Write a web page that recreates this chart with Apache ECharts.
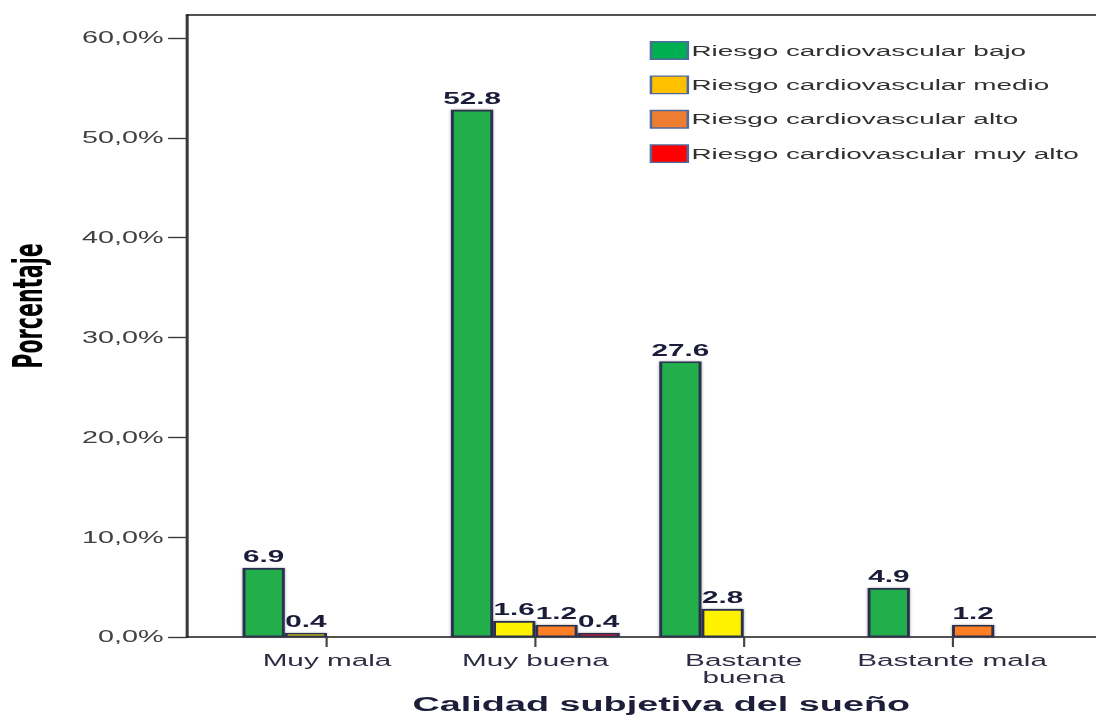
<!DOCTYPE html>
<html>
<head>
<meta charset="utf-8">
<title>Calidad subjetiva del sueño y riesgo cardiovascular</title>
<script src="https://cdn.jsdelivr.net/npm/echarts@6/dist/echarts.min.js"></script>
<style>
  html, body { margin: 0; padding: 0; background: #ffffff; overflow: hidden; }
  #chart { width: 609px; height: 719px; transform-origin: 0 0; }
</style>
</head>
<body>
<div id="chart"></div>
<script>
// Categories on the x axis
const categories = ['Muy mala', 'Muy buena', 'Bastante buena', 'Bastante mala'];

// Percentages per cardiovascular risk level (null = no bar)
const riesgoBajo    = [6.9, 52.8, 27.6, 4.9];
const riesgoMedio   = [0.4, 1.6, 2.8, null];
const riesgoAlto    = [null, 1.2, null, 1.2];
const riesgoMuyAlto = [null, 0.4, null, null];

// Series names
const seriesNames = [
  'Riesgo cardiovascular bajo',
  'Riesgo cardiovascular medio',
  'Riesgo cardiovascular alto',
  'Riesgo cardiovascular muy alto'
];

// Y axis ticks (percent)
const yTicks = [0, 10, 20, 30, 40, 50, 60];
const yMax = 62.3;

// The drawing is laid out narrow and stretched horizontally to full width
const STRETCH = 1096 / 609;
const dom = document.getElementById('chart');
dom.style.transform = 'scaleX(' + STRETCH + ')';

const barColors = ['#22ae4b', '#fff200', '#ff7f27', '#e8152b'];
const legendColors = ['#00b050', '#ffc000', '#ed7d31', '#ff0000'];
const seriesData = [riesgoBajo, riesgoMedio, riesgoAlto, riesgoMuyAlto];

const FONT = "'Liberation Sans', Arial, sans-serif";

const chart = echarts.init(dom, null, { renderer: 'svg', width: 609, height: 719 });

const frameAxis = {
  type: 'value', min: 0, max: 1, gridIndex: 0,
  axisLabel: { show: false }, axisTick: { show: false }, splitLine: { show: false },
  axisLine: { show: true, onZero: false, lineStyle: { color: '#1a1a1a', width: 1.5 } }
};

const option = {
  backgroundColor: '#ffffff',
  animation: false,
  textStyle: { fontFamily: FONT },
  legend: {
    orient: 'vertical',
    left: 361,
    top: 41,
    padding: 0,
    itemWidth: 20.5,
    itemHeight: 17.5,
    itemGap: 15.5,
    icon: 'rect',
    textStyle: { fontFamily: FONT, fontSize: 15.5, color: '#303030', padding: [0, 0, 0, -3] },
    data: seriesNames.map((n, i) => ({
      name: n,
      itemStyle: { color: legendColors[i], borderColor: '#4f6b9c', borderWidth: 1.4, shadowBlur: 0 }
    }))
  },
  grid: [
    { left: 103.9, right: 0, top: 15, bottom: 82, outerBoundsMode: 'none', containLabel: false },
    { left: 123.8, right: 22.1, top: 15, bottom: 82, outerBoundsMode: 'none', containLabel: false }
  ],
  xAxis: [
    Object.assign({}, frameAxis, {
      position: 'bottom',
      name: 'Calidad subjetiva del sueño',
      nameLocation: 'middle',
      nameGap: 56,
      nameTextStyle: { fontFamily: FONT, fontSize: 21, fontWeight: 'bold', color: '#1e1e3a', padding: [0, 0, 0, 22] }
    }),
    {
      type: 'category', gridIndex: 1, data: categories,
      axisLine: { show: false },
      axisTick: { show: true, alignWithLabel: true, length: 10, lineStyle: { color: '#454545', width: 1.2 } },
      axisLabel: {
        margin: 15, fontSize: 16.5, color: '#2c2c44', lineHeight: 17, interval: 0,
        formatter: v => v.replace('Bastante buena', 'Bastante\nbuena')
      }
    },
    Object.assign({}, frameAxis, { position: 'top' })
  ],
  yAxis: [
    {
      type: 'value', gridIndex: 0, min: 0, max: yMax, interval: 10,
      splitLine: { show: false },
      axisLine: { show: true, onZero: false, lineStyle: { color: '#3a3a3a', width: 1.7 } },
      axisTick: { show: true, length: 10.5, customValues: yTicks, lineStyle: { color: '#3a3a3a', width: 1.4 } },
      axisLabel: {
        customValues: yTicks, margin: 13, fontSize: 16, color: '#404040',
        formatter: v => v.toFixed(1).replace('.', ',') + '%'
      },
      name: 'Porcentaje',
      nameLocation: 'middle',
      nameGap: 77,
      nameTextStyle: {
        fontFamily: "'Liberation Sans Narrow', 'Arial Narrow', 'DejaVu Sans Condensed', sans-serif",
        fontSize: 23, lineHeight: 23, fontWeight: 'bold', color: '#000000', padding: [0, 0, 0, 40]
      }
    },
    { type: 'value', gridIndex: 1, min: 0, max: yMax, show: false }
  ],
  series: seriesNames.map((n, i) => ({
    name: n,
    type: 'bar',
    xAxisIndex: 1,
    yAxisIndex: 1,
    barGap: '0%',
    barCategoryGap: '19%',
    data: seriesData[i],
    itemStyle: {
      color: barColors[i],
      borderColor: '#2b3150',
      borderWidth: 1.6,
      shadowBlur: 2,
      shadowColor: 'rgba(0,0,0,0.4)'
    },
    label: {
      show: true,
      position: 'top',
      distance: 3,
      fontFamily: FONT,
      fontSize: 16.5,
      fontWeight: 'bold',
      color: '#1b1b3a',
      formatter: p => p.value.toFixed(1)
    }
  }))
};

chart.setOption(option);
</script>
</body>
</html>
